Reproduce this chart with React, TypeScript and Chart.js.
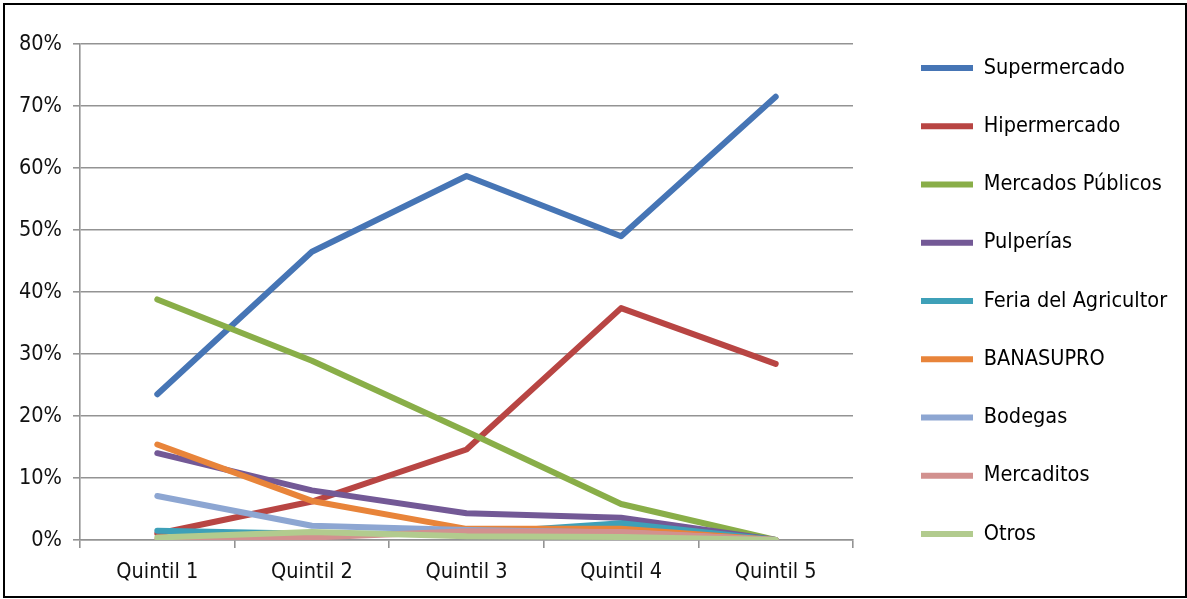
import React, { useEffect, useRef } from "react";
import { Chart, registerables } from "chart.js";

Chart.register(...registerables);

const categories = ["Quintil 1", "Quintil 2", "Quintil 3", "Quintil 4", "Quintil 5"];

const seriesNames = [
  "Supermercado",
  "Hipermercado",
  "Mercados Públicos",
  "Pulperías",
  "Feria del Agricultor",
  "BANASUPRO",
  "Bodegas",
  "Mercaditos",
  "Otros",
];

const supermercado = [23.5, 46.5, 58.7, 49.0, 71.5];
const hipermercado = [1.0, 6.2, 14.6, 37.4, 28.4];
const mercadosPublicos = [38.8, 28.9, 17.5, 5.8, 0];
const pulperias = [14.0, 8.0, 4.3, 3.6, 0];
const feriaAgricultor = [1.5, 1.0, 1.0, 2.7, 0];
const banasupro = [15.4, 6.3, 1.8, 1.8, 0];
const bodegas = [7.1, 2.3, 1.6, 1.2, 0];
const mercaditos = [0.1, 0.4, 1.4, 1.3, 0];
const otros = [0.4, 1.3, 0.6, 0.5, 0];

const seriesValues = [
  supermercado,
  hipermercado,
  mercadosPublicos,
  pulperias,
  feriaAgricultor,
  banasupro,
  bodegas,
  mercaditos,
  otros,
];

const seriesColors = [
  "#4675B5",
  "#B84543",
  "#89AE48",
  "#735996",
  "#3EA0B8",
  "#E8843A",
  "#8DA6D2",
  "#D2918F",
  "#B2CB8E",
];

const yMin = 0;
const yMax = 80;
const yStep = 10;

const FONT = "'Liberation Sans Narrow', 'Arial Narrow', 'DejaVu Sans Condensed', sans-serif";
const FONT_SIZE = 21.5;
const LEGEND_W = 332;
const LEGEND_SPACING = 58.25;
const LEGEND_GAP = 68;

const legendPlacer = {
  id: "legendPlacer",
  afterInit(chart: any) {
    const lg = chart.legend;
    if (!lg || lg.__patched) return;
    const fit = lg.fit.bind(lg);
    lg.fit = function () {
      lg.maxHeight = 2000;
      fit();
      lg.width = LEGEND_W;
    };
    lg.__patched = true;
  },
  afterLayout(chart: any) {
    const lg = chart.legend;
    const ca = chart.chartArea;
    if (!lg || !ca) return;
    const pad = LEGEND_SPACING - FONT_SIZE;
    lg.left = ca.right + LEGEND_GAP - pad;
    lg.right = lg.left + lg.width;
    lg.top = 0;
    lg.bottom = 592;
    lg.height = 592;
  },
};

export default function App() {
  const canvasRef = useRef<HTMLCanvasElement | null>(null);

  useEffect(() => {
    const canvas = canvasRef.current;
    if (!canvas) return;
    const chart = new Chart(canvas, {
      type: "line",
      data: {
        labels: categories,
        datasets: seriesNames.map((name, i) => ({
          label: name,
          data: seriesValues[i],
          borderColor: seriesColors[i],
          backgroundColor: seriesColors[i],
          borderWidth: 6,
          borderCapStyle: "round" as const,
          borderJoinStyle: "round" as const,
          pointRadius: 0,
          pointHoverRadius: 0,
          tension: 0,
          fill: false,
          order: -i,
        })),
      },
      options: {
        responsive: false,
        animation: false,
        devicePixelRatio: 1,
        layout: { padding: { top: 39, left: 0, right: 0, bottom: 0 } },
        plugins: {
          tooltip: { enabled: false },
          legend: {
            position: "right",
            align: "center",
            labels: {
              usePointStyle: true,
              pointStyle: "line",
              pointStyleWidth: 52,
              padding: LEGEND_SPACING - FONT_SIZE,
              color: "#000",
              font: { family: FONT, size: FONT_SIZE },
              sort: (a: any, b: any) => a.datasetIndex - b.datasetIndex,
            },
          },
        },
        scales: {
          x: {
            offset: true,
            afterFit: (s: any) => {
              s.height = 56;
            },
            grid: {
              display: true,
              offset: true,
              drawOnChartArea: false,
              drawTicks: true,
              tickLength: 8,
              color: "#939393",
              lineWidth: 1.6,
            },
            border: { display: true, color: "#939393", width: 1.6 },
            ticks: {
              color: "#111",
              padding: 12,
              maxRotation: 0,
              font: { family: FONT, size: FONT_SIZE },
            },
          },
          y: {
            min: yMin,
            max: yMax,
            afterFit: (s: any) => {
              s.width = 75;
            },
            grid: {
              color: "#939393",
              lineWidth: 1.6,
              drawTicks: true,
              tickLength: 7,
            },
            border: { display: true, color: "#939393", width: 1.6 },
            ticks: {
              stepSize: yStep,
              color: "#111",
              padding: 11,
              font: { family: FONT, size: FONT_SIZE },
              callback: (v: any) => `${v}%`,
            },
          },
        },
      },
      plugins: [legendPlacer],
    });
    return () => chart.destroy();
  }, []);

  return (
    <div
      style={{
        position: "absolute",
        left: 3,
        top: 3,
        width: 1184,
        height: 595,
        border: "2px solid #000",
        boxSizing: "border-box",
        background: "#fff",
      }}
    >
      <canvas
        ref={canvasRef}
        width={1180}
        height={591}
        style={{ display: "block", width: 1180, height: 591 }}
      />
    </div>
  );
}
